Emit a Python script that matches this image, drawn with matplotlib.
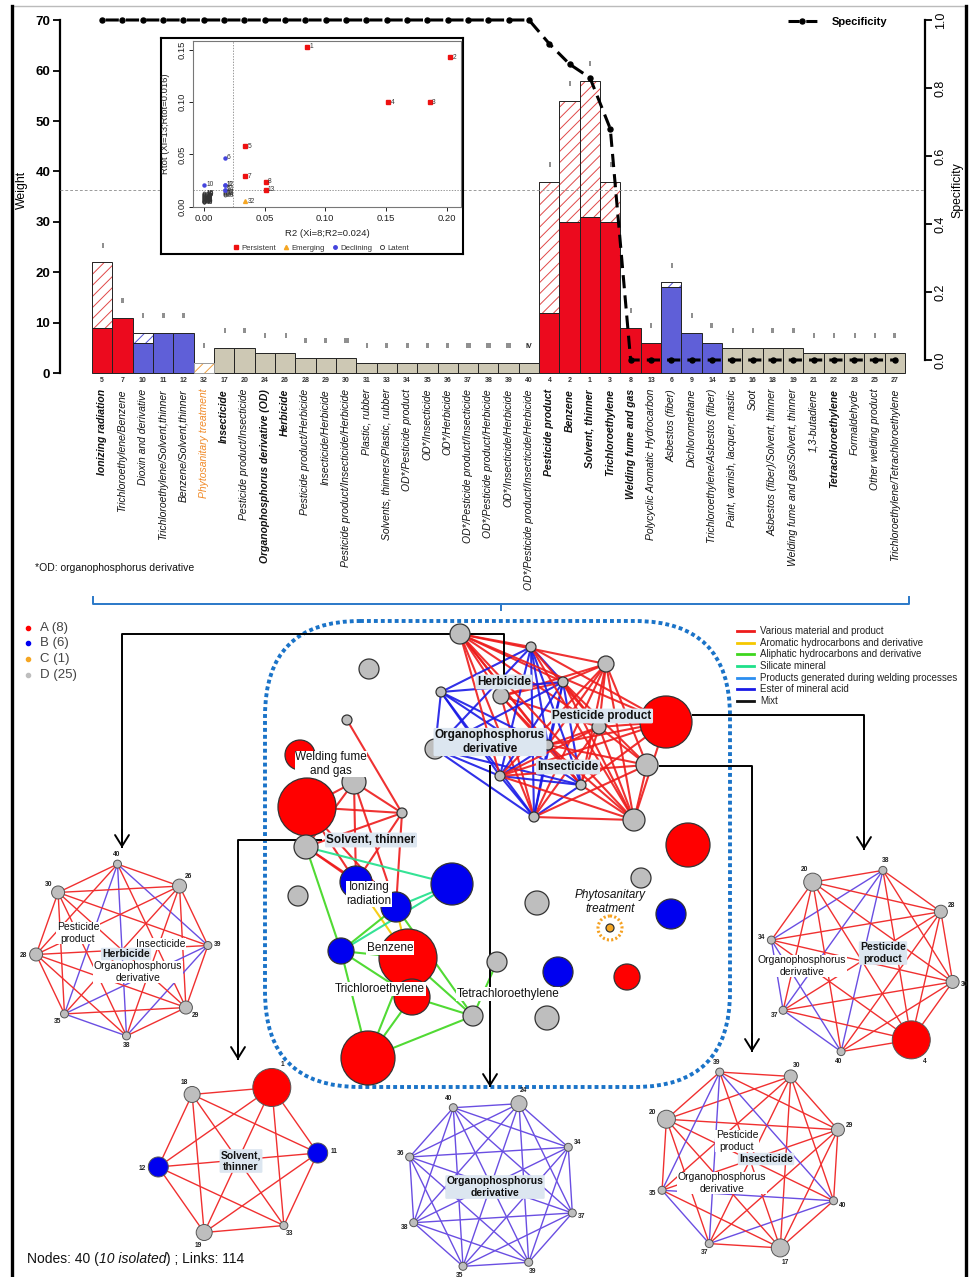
import numpy as np
import matplotlib
matplotlib.use("Agg")
import matplotlib.pyplot as plt
import matplotlib.transforms as mtransforms
from matplotlib.patches import Circle, FancyBboxPatch
from matplotlib.collections import LineCollection
from matplotlib.lines import Line2D

plt.rcParams['font.family'] = ['Liberation Sans', 'DejaVu Sans']
plt.rcParams['hatch.linewidth'] = 0.7
plt.rcParams['lines.scale_dashes'] = False

# ---------------- data: bar chart ----------------
bar_ids = [5, 7, 10, 11, 12, 32, 17, 20, 24, 26, 28, 29, 30, 31, 33, 34, 35, 36, 37, 38,
           39, 40, 4, 2, 1, 3, 8, 13, 6, 9, 14, 15, 16, 18, 19, 21, 22, 23, 25, 27]
bar_names = ["Ionizing radiation", "Trichloroethylene/Benzene", "Dioxin and derivative",
             "Trichloroethylene/Solvent,thinner", "Benzene/Solvent,thinner",
             "Phytosanitary treatment", "Insecticide", "Pesticide product/Insecticide",
             "Organophosphorus derivative (OD)", "Herbicide", "Pesticide product/Herbicide",
             "Insecticide/Herbicide", "Pesticide product/Insecticide/Herbicide",
             "Plastic, rubber", "Solvents, thinners/Plastic, rubber", "OD*/Pesticide product",
             "OD*/Insecticide", "OD*/Herbicide", "OD*/Pesticide product/Insecticide",
             "OD*/Pesticide product/Herbicide", "OD*/Insecticide/Herbicide",
             "OD*/Pesticide product/Insecticide/Herbicide", "Pesticide product", "Benzene",
             "Solvent, thinner", "Trichloroethylene", "Welding fume and gas",
             "Polycyclic Aromatic Hydrocarbon", "Asbestos (fiber)", "Dichloromethane",
             "Trichloroethylene/Asbestos (fiber)", "Paint, varnish, lacquer, mastic", "Soot",
             "Asbestos (fiber)/Solvent, thinner", "Welding fume and gas/Solvent, thinner",
             "1,3-butadiene", "Tetrachloroethylene", "Formaldehyde", "Other welding product",
             "Trichloroethylene/Tetrachloroethylene"]
solid_weight = [9, 11, 6, 8, 8, 0, 5, 5, 4, 4, 3, 3, 3, 2, 2, 2, 2, 2, 2, 2,
                2, 2, 12, 30, 31, 30, 9, 6, 17, 8, 6, 5, 5, 5, 5, 4, 4, 4, 4, 4]
total_weight = [22, 11, 8, 8, 8, 2, 5, 5, 4, 4, 3, 3, 3, 2, 2, 2, 2, 2, 2, 2,
                2, 2, 38, 54, 58, 38, 9, 6, 18, 8, 6, 5, 5, 5, 5, 4, 4, 4, 4, 4]
roman_class = ['I', 'II', 'I', 'II', 'II', 'I', 'I', 'II', 'I', 'I', 'II', 'II', 'III', 'I',
               'II', 'II', 'II', 'II', 'III', 'III', 'III', 'IV', 'I', 'I', 'I', 'I', 'I', 'I',
               'I', 'I', 'II', 'I', 'I', 'II', 'II', 'I', 'I', 'I', 'I', 'II']
specificity = [1.0] * 22 + [0.93, 0.87, 0.83, 0.68] + [0.0] * 14
spec_threshold = 0.5
bold_ids = [5, 17, 24, 26, 4, 2, 1, 3, 8, 22]
class_A = [1, 2, 3, 4, 5, 7, 8, 13]
class_B = [6, 9, 10, 11, 12, 14]
class_C = [32]
od_ids = [24, 34, 35, 36, 37, 38, 39, 40]

# ---------------- data: inset scatter ----------------
pers_ids = [1, 2, 3, 4, 5, 7, 8, 13]
pers_r2 = [0.085, 0.203, 0.186, 0.152, 0.034, 0.034, 0.051, 0.051]
pers_rtot = [0.153, 0.143, 0.100, 0.100, 0.058, 0.029, 0.024, 0.016]
emer_ids = [32]
emer_r2 = [0.034]
emer_rtot = [0.005]
decl_ids = [6, 10, 12, 11, 9, 14]
decl_r2 = [0.017, 0.000, 0.017, 0.017, 0.017, 0.017]
decl_rtot = [0.047, 0.021, 0.021, 0.021, 0.016, 0.016]
lat_ids = [17, 20, 24, 26, 16, 15, 18, 19, 21, 22, 23, 25, 27, 28, 29, 30, 31, 33, 34, 35,
           36, 37, 38, 39, 40]
lat_r2 = [0.017, 0.017, 0.017, 0.017] + [0.0] * 21
lat_rtot = [0.014, 0.013, 0.012, 0.011, 0.013, 0.0125, 0.012, 0.0115, 0.011, 0.0105, 0.010,
            0.0095, 0.009, 0.0085, 0.008, 0.0075, 0.007, 0.0065, 0.006, 0.0058, 0.0055,
            0.005, 0.0047, 0.0044, 0.004]
r2_thr = 0.024
rtot_thr = 0.016

# ---------------- data: network ----------------
class_labels = ['A (8)', 'B (6)', 'C (1)', 'D (25)']
edge_types = ['Various material and product', 'Aromatic hydrocarbons and derivative',
              'Aliphatic hydrocarbons and derivative', 'Silicate mineral',
              'Products generated during welding processes', 'Ester of mineral acid', 'Mixt']
ego_cliques = {
    'Herbicide': [40, 26, 39, 29, 38, 35, 28, 30],
    'Solvent, thinner': [1, 11, 33, 19, 12, 18],
    'Organophosphorus derivative': [24, 34, 37, 39, 35, 38, 36, 40],
    'Pesticide product': [38, 28, 30, 4, 40, 37, 34, 20],
    'Insecticide': [30, 29, 40, 17, 37, 35, 20, 39],
}
other_links = [(1, 18, 0), (25, 33, 0), (8, 18, 0),
               (12, 2, 1), (11, 2, 1),
               (19, 14, 2), (11, 14, 2), (14, 2, 2), (14, 7, 2), (14, 3, 2), (2, 3, 2),
               (7, 3, 2), (7, 22, 2), (2, 22, 2), (3, 22, 2), (22, 27, 2), (11, 22, 2),
               (19, 6, 3), (11, 6, 3), (14, 6, 3)]
n_nodes, n_isolated, n_links = 40, 10, 114

# ---------------- layout (positions in pixel space) ----------------
main_pos = {
    4: (666, 722, 26), 17: (647, 765, 11), 20: (634, 820, 11), 24: (435, 749, 10),
    26: (501, 696, 8), 28: (460, 634, 10), 29: (606, 664, 8), 30: (599, 727, 7),
    34: (531, 647, 5), 35: (563, 682, 5), 36: (441, 692, 5), 37: (500, 776, 5),
    38: (581, 785, 5), 39: (534, 817, 5), 40: (548, 745, 5),
    1: (307, 807, 29), 2: (408, 958, 29), 3: (368, 1058, 27), 5: (688, 845, 22),
    7: (412, 997, 18), 8: (300, 755, 15), 13: (627, 977, 13), 6: (452, 884, 21),
    9: (671, 914, 15), 10: (558, 972, 15), 11: (396, 907, 15), 12: (356, 882, 16),
    14: (341, 951, 13), 32: (610, 928, 4), 15: (369, 669, 10), 16: (537, 903, 12),
    18: (354, 782, 12), 19: (306, 847, 12), 21: (298, 896, 10), 22: (473, 1016, 10),
    23: (641, 878, 10), 25: (347, 720, 5), 27: (497, 962, 10), 31: (547, 1018, 12),
    33: (402, 813, 5),
}
main_labels = [("Herbicide", 504, 682, 'hl'), ("Pesticide product", 602, 716, 'hl'),
               ("Organophosphorus\nderivative", 490, 742, 'hl'), ("Insecticide", 568, 767, 'hl'),
               ("Welding fume\nand gas", 331, 764, 'w'), ("Solvent, thinner", 371, 840, 'hl'),
               ("Ionizing\nradiation", 369, 894, 'w'), ("Benzene", 390, 948, 'w'),
               ("Trichloroethylene", 380, 989, 'w'), ("Tetrachloroethylene", 508, 994, 'w'),
               ("Phytosanitary\ntreatment", 610, 902, 'it')]
sub_layout = {
    'Herbicide': ((122, 950), 86, -3),
    'Solvent, thinner': ((238, 1160), 80, 25),
    'Organophosphorus derivative': ((491, 1185), 86, 19),
    'Pesticide product': ((862, 961), 93, 13),
    'Insecticide': ((750, 1160), 93, 26),
}
sub_size = {1: 19, 4: 19, 11: 10, 12: 10, 17: 9, 20: 9, 24: 8, 26: 7, 28: 6.5, 29: 6.5,
            30: 6.5, 18: 8, 19: 8, 33: 4, 34: 4, 35: 4, 36: 4, 37: 4, 38: 4, 39: 4, 40: 4}
sub_labels = {
    'Herbicide': [("Pesticide\nproduct", 78, 933, 'w'), ("Insecticide", 161, 944, 'w'),
                  ("Herbicide", 126, 954, 'hl'), ("Organophosphorus\nderivative", 138, 972, 'w')],
    'Solvent, thinner': [("Solvent,\nthinner", 241, 1161, 'hl')],
    'Organophosphorus derivative': [("Organophosphorus\nderivative", 495, 1187, 'hl')],
    'Pesticide product': [("Pesticide\nproduct", 883, 953, 'hl'),
                          ("Organophosphorus\nderivative", 802, 966, 'w')],
    'Insecticide': [("Pesticide\nproduct", 737, 1141, 'w'), ("Insecticide", 766, 1159, 'hl'),
                    ("Organophosphorus\nderivative", 722, 1183, 'w')],
}
connectors = [[(504, 690), (504, 634), (122, 634), (122, 848)],
              [(322, 840), (238, 840), (238, 1060)],
              [(692, 715), (864, 715), (864, 850)],
              [(659, 766), (752, 766), (752, 1052)],
              [(490, 765), (490, 1087)]]

# ---------------- styles ----------------
fill_cols = {'A': '#EC0A1E', 'B': '#5F5FD8', 'C': '#F3A64A', 'D': '#CDC8B4'}
hatch_cols = {'A': '#E04848', 'B': '#5050D8', 'C': '#F0A040', 'D': '#999999'}
node_cols = {'A': '#FF0000', 'B': '#0000F0', 'C': '#F5A623', 'D': '#BEBEBE'}
edge_cols = ['#EE1C1C', '#F5C800', '#3ED61E', '#1EE08A', '#2B8EF0', '#1A1AE6', '#111111']
HL = '#DCE6F0'


def cls(i):
    if i in class_A:
        return 'A'
    if i in class_B:
        return 'B'
    if i in class_C:
        return 'C'
    return 'D'


W, H = 971, 1277
fig = plt.figure(figsize=(W / 100, H / 100), dpi=100)
fig.patch.set_facecolor('white')


def fr(x0, y0, x1, y1):
    return [x0 / W, 1 - y1 / H, (x1 - x0) / W, (y1 - y0) / H]


# overlay axes in pixel space
ov = fig.add_axes([0, 0, 1, 1], zorder=0)
ov.set_xlim(0, W)
ov.set_ylim(H, 0)
ov.axis('off')

# ---------------- bar chart ----------------
ax = fig.add_axes(fr(60, 10, 925, 378), zorder=1)
ax.set_facecolor('none')
n = len(bar_ids)
ax.set_xlim(-2.07, 40.48)
ax.set_ylim(-0.99, 72.03)
for i, bid in enumerate(bar_ids):
    c = cls(bid)
    s, t = solid_weight[i], total_weight[i]
    if s > 0:
        ax.bar(i, s, width=1, color=fill_cols[c], edgecolor='#222222', linewidth=0.7, zorder=2)
    if t > s:
        ax.bar(i, t - s, bottom=s, width=1, facecolor='white', edgecolor=hatch_cols[c],
               hatch='///', linewidth=0, zorder=2)
        ax.bar(i, t - s, bottom=s, width=1, fill=False,
               edgecolor='#222222' if c != 'C' else '#999999', linewidth=0.7, zorder=3)
    ax.text(i, t + 3.2, roman_class[i], ha='center', va='center', fontsize=5,
            fontweight='bold', color='#222222')

trans = mtransforms.blended_transform_factory(ax.transData, ax.transAxes)
for i, bid in enumerate(bar_ids):
    ax.text(i, -3 / 368, str(bid), transform=trans, ha='center', va='center', fontsize=5,
            fontweight='bold', color='#333333')
    ax.text(i, -11 / 368, bar_names[i], transform=trans, rotation=90, ha='center', va='top',
            fontsize=7.5, style='italic',
            fontweight='bold' if bid in bold_ids else 'normal',
            color='#F08A28' if bid in class_C else '#111111')

for sp in ['top', 'right', 'bottom']:
    ax.spines[sp].set_visible(False)
ax.spines['left'].set_bounds(0, 70)
ax.spines['left'].set_linewidth(1.6)
ax.set_xticks([])
ax.set_yticks(range(0, 71, 10))
ax.tick_params(axis='y', length=5, width=1.3, labelsize=9.5, pad=2)
for tl in ax.get_yticklabels():
    tl.set_fontweight('bold')
ax.set_ylabel('Weight', fontsize=8.8, va='center')
ax.yaxis.set_label_coords(-0.044, 0.51)

ax2 = ax.twinx()
ax2.set_zorder(2)
ax2.patch.set_visible(False)
ax2.set_ylim(-0.0529, 1.0294)
for sp in ['top', 'left', 'bottom']:
    ax2.spines[sp].set_visible(False)
ax2.spines['right'].set_bounds(0, 1)
ax2.spines['right'].set_linewidth(1.6)
ax2.set_yticks(np.arange(0, 1.01, 0.2))
ax2.set_yticklabels([f'{v:.1f}' for v in np.arange(0, 1.01, 0.2)], rotation=90, va='center')
ax2.tick_params(axis='y', length=5, width=1.3, labelsize=9, pad=2)
ax2.set_ylabel('Specificity', fontsize=8.8, va='center')
ax2.yaxis.set_label_coords(1.037, 0.51)
ax2.axhline(spec_threshold, color='#9A9A9A', lw=0.7, ls=(0, (2, 1.5)), zorder=0.5)
ax2.plot(np.arange(n), specificity, color='black', lw=2.2, ls=(12.05, (9.5, 5.1)),
         marker='o', ms=3.6, zorder=5)
hspec = Line2D([], [], color='black', lw=2.2, ls=(0, (8, 4.8)), marker='o', ms=3.6)
ax2.legend(handles=[hspec], labels=['Specificity'], loc='center left',
           bbox_to_anchor=(788 / W, 1 - 22 / H), bbox_transform=fig.transFigure,
           frameon=False, borderpad=0, borderaxespad=0, handlelength=2.6, handletextpad=1.3,
           prop={'weight': 'bold', 'size': 8})

# ---------------- inset ----------------
axbox = fig.add_axes(fr(160.7, 37.7, 463.3, 254), zorder=5)
axbox.set_xticks([])
axbox.set_yticks([])
for sp in axbox.spines.values():
    sp.set_linewidth(1.5)
axi = fig.add_axes(fr(193.3, 40.7, 460.7, 207.3), zorder=6)
axi.set_xlim(-0.0088, 0.2116)
axi.set_ylim(-0.0006, 0.159)
for sp in axi.spines.values():
    sp.set_color('#777777')
    sp.set_linewidth(0.8)
axi.axvline(r2_thr, color='#888888', lw=0.6, ls=(0, (1, 1)))
axi.axhline(rtot_thr, color='#888888', lw=0.6, ls=(0, (1, 1)))
axi.plot(lat_r2, lat_rtot, 'o', mfc='none', mec='#333333', ms=2.2, mew=0.5, ls='none')
axi.plot(pers_r2, pers_rtot, 's', color='#EE1111', ms=2.6, ls='none')
axi.plot(emer_r2, emer_rtot, '^', color='#F5A623', ms=2.8, ls='none')
axi.plot(decl_r2, decl_rtot, 'o', color='#4444DD', ms=2.2, ls='none')
for ids, xs, ys in [(lat_ids, lat_r2, lat_rtot), (pers_ids, pers_r2, pers_rtot),
                    (emer_ids, emer_r2, emer_rtot), (decl_ids, decl_r2, decl_rtot)]:
    for k, xx, yy in zip(ids, xs, ys):
        axi.annotate(str(k), (xx, yy), xytext=(1.5, 0), textcoords='offset points',
                     fontsize=4.8, va='center', ha='left', color='#333333')
axi.set_xticks([0, 0.05, 0.10, 0.15, 0.20])
axi.set_xticklabels(['0.00', '0.05', '0.10', '0.15', '0.20'])
axi.set_yticks([0, 0.05, 0.10, 0.15])
axi.set_yticklabels(['0.00', '0.05', '0.10', '0.15'], rotation=90, va='center')
axi.tick_params(length=3, width=0.7, labelsize=6.8, pad=2, colors='#222222')
axi.set_xlabel('R2 (Xi=8;R2=0.024)', fontsize=6.8, color='#222222')
axi.xaxis.set_label_coords(0.5, -(233 - 207.3) / 166.6)
axi.xaxis.label.set_va('center')
axi.set_ylabel('Rtot (Xi=13;Rtot=0.016)', fontsize=6.8, color='#222222')
axi.yaxis.set_label_coords(-0.103, 0.5)
axi.yaxis.label.set_va('center')
lh = [Line2D([], [], marker='s', color='#EE1111', ls='none', ms=3),
      Line2D([], [], marker='^', color='#F5A623', ls='none', ms=3),
      Line2D([], [], marker='o', color='#4444DD', ls='none', ms=2.5),
      Line2D([], [], marker='o', mfc='none', mec='#333333', ls='none', ms=3, mew=0.6)]
axbox.legend(lh, ['Persistent', 'Emerging', 'Declining', 'Latent'], loc='center', ncol=4,
             bbox_to_anchor=((321 - 160.7) / 302.6, (254 - 248) / 216.3), frameon=False,
             fontsize=5.6, handlelength=0.8, handletextpad=0.3, columnspacing=0.9,
             borderpad=0, labelcolor='#333333')

# ---------------- frame, footnote, bracket ----------------
ov.plot([12, 966], [6, 6], color='#BBBBBB', lw=1)
ov.plot([12, 12], [6, H], color='black', lw=2.4)
ov.plot([966, 966], [6, H], color='black', lw=2.4)
ov.text(35, 568, '*OD: organophosphorus derivative', fontsize=7.5, va='center', ha='left',
        color='#111111')
ov.plot([93, 93, 909, 909], [597, 603.5, 603.5, 597], color='#2A78C8', lw=1.4)
ov.plot([501, 501], [603.5, 610], color='#2A78C8', lw=1.4)

# ---------------- network legends ----------------
for k, lab in enumerate(class_labels):
    yy = [628, 643, 659, 675][k]
    col = list(node_cols.values())[k]
    ov.plot(28, yy, 'o', color=col, ms=3)
    ov.text(40, yy, lab, fontsize=9.5, va='center', ha='left', color='#444444')
for k, lab in enumerate(edge_types):
    yy = 631 + 11.65 * k
    ov.plot([737, 754], [yy, yy], color=edge_cols[k], lw=2)
    ov.text(760, yy, lab, fontsize=7, va='center', ha='left', color='#222222')

# dotted rounded frame
ov.add_patch(FancyBboxPatch((265, 621), 465, 466, boxstyle='round,pad=0,rounding_size=95',
                            fill=False, edgecolor='#1A73C8', lw=2.8, ls=(0, (2.8, 2.2)),
                            zorder=1))


def draw_label(txt, xx, yy, kind, size):
    if kind == 'hl':
        ov.text(xx, yy, txt, ha='center', va='center', fontsize=size, fontweight='bold',
                color='#111111', linespacing=1.15, zorder=7,
                bbox=dict(boxstyle='round,pad=0.12', fc=HL, ec='none'))
    elif kind == 'w':
        ov.text(xx, yy, txt, ha='center', va='center', fontsize=size, color='#111111',
                linespacing=1.15, zorder=7, bbox=dict(boxstyle='square,pad=0.05', fc='white',
                                                      ec='none'))
    else:
        ov.text(xx, yy, txt, ha='center', va='center', fontsize=size, style='italic',
                color='#111111', linespacing=1.15, zorder=7)


# ---------------- main network ----------------
segs, cols = [], []
seen = set()
for name, members in ego_cliques.items():
    for a in range(len(members)):
        for b in range(a + 1, len(members)):
            p, q = members[a], members[b]
            key = tuple(sorted((p, q)))
            if key in seen:
                continue
            seen.add(key)
            segs.append([main_pos[p][:2], main_pos[q][:2]])
            cols.append(edge_cols[5] if (p in od_ids and q in od_ids) else edge_cols[0])
for p, q, t in other_links:
    key = tuple(sorted((p, q)))
    if key in seen:
        continue
    seen.add(key)
    segs.append([main_pos[p][:2], main_pos[q][:2]])
    cols.append(edge_cols[t])
ov.add_collection(LineCollection(segs, colors=cols, linewidths=1.5, alpha=0.9, zorder=2))

for path in connectors:
    xs = [p[0] for p in path]
    ys = [p[1] for p in path]
    ov.plot(xs, ys, color='black', lw=1.4, zorder=3, solid_capstyle='butt')
    tip = path[-1]
    ov.annotate('', xy=tip, xytext=(tip[0], tip[1] - 18),
                arrowprops=dict(arrowstyle='->,head_length=0.8,head_width=0.5', lw=1.4,
                                color='black', shrinkA=0, shrinkB=0), zorder=3)

for nid, (xx, yy, r) in main_pos.items():
    c = cls(nid)
    ov.add_patch(Circle((xx, yy), r, facecolor=node_cols[c], edgecolor='#333333', lw=0.9,
                        zorder=4))
    if c == 'C':
        ov.add_patch(Circle((xx, yy), 12, fill=False, edgecolor='#F5A020', lw=2.2,
                            ls=(0, (1.5, 1.6)), zorder=4))

for txt, xx, yy, kind in main_labels:
    draw_label(txt, xx, yy, kind, 8.5)

# ---------------- ego subgraphs ----------------
for name, members in ego_cliques.items():
    (cx, cy), R, start = sub_layout[name]
    k = len(members)
    ang = np.deg2rad(start + 360.0 / k * np.arange(k))
    pos = {m: (cx + R * np.sin(a), cy - R * np.cos(a), a) for m, a in zip(members, ang)}
    s2, c2 = [], []
    for a in range(k):
        for b in range(a + 1, k):
            p, q = members[a], members[b]
            s2.append([pos[p][:2], pos[q][:2]])
            c2.append('#6A4EE2' if (p in od_ids and q in od_ids) else '#F03030')
    ov.add_collection(LineCollection(s2, colors=c2, linewidths=1.0, zorder=2))
    for m in members:
        xx, yy, a = pos[m]
        r = sub_size[m]
        ov.add_patch(Circle((xx, yy), r, facecolor=node_cols[cls(m)], edgecolor='#555555',
                            lw=0.7, zorder=4))
        d = r + 6
        ov.text(xx + d * np.sin(a), yy - d * np.cos(a), str(m), fontsize=4.8,
                fontweight='bold', ha='center', va='center', color='#222222', zorder=5)
    for txt, xx, yy, kind in sub_labels[name]:
        draw_label(txt, xx, yy, kind, 7.5)

# ---------------- footer ----------------
t1 = ov.text(27, 1266, f'Nodes: {n_nodes} (', fontsize=10, va='bottom', ha='left',
             color='#111111')
t2 = ov.annotate(f'{n_isolated} isolated', xy=(1, 0), xycoords=t1, fontsize=10,
                 style='italic', va='bottom', ha='left', color='#111111')
t3 = ov.annotate(f') ; Links: {n_links}', xy=(1, 0), xycoords=t2, fontsize=10, va='bottom',
                 ha='left', color='#111111')

fig.savefig('out.png', dpi=100)
